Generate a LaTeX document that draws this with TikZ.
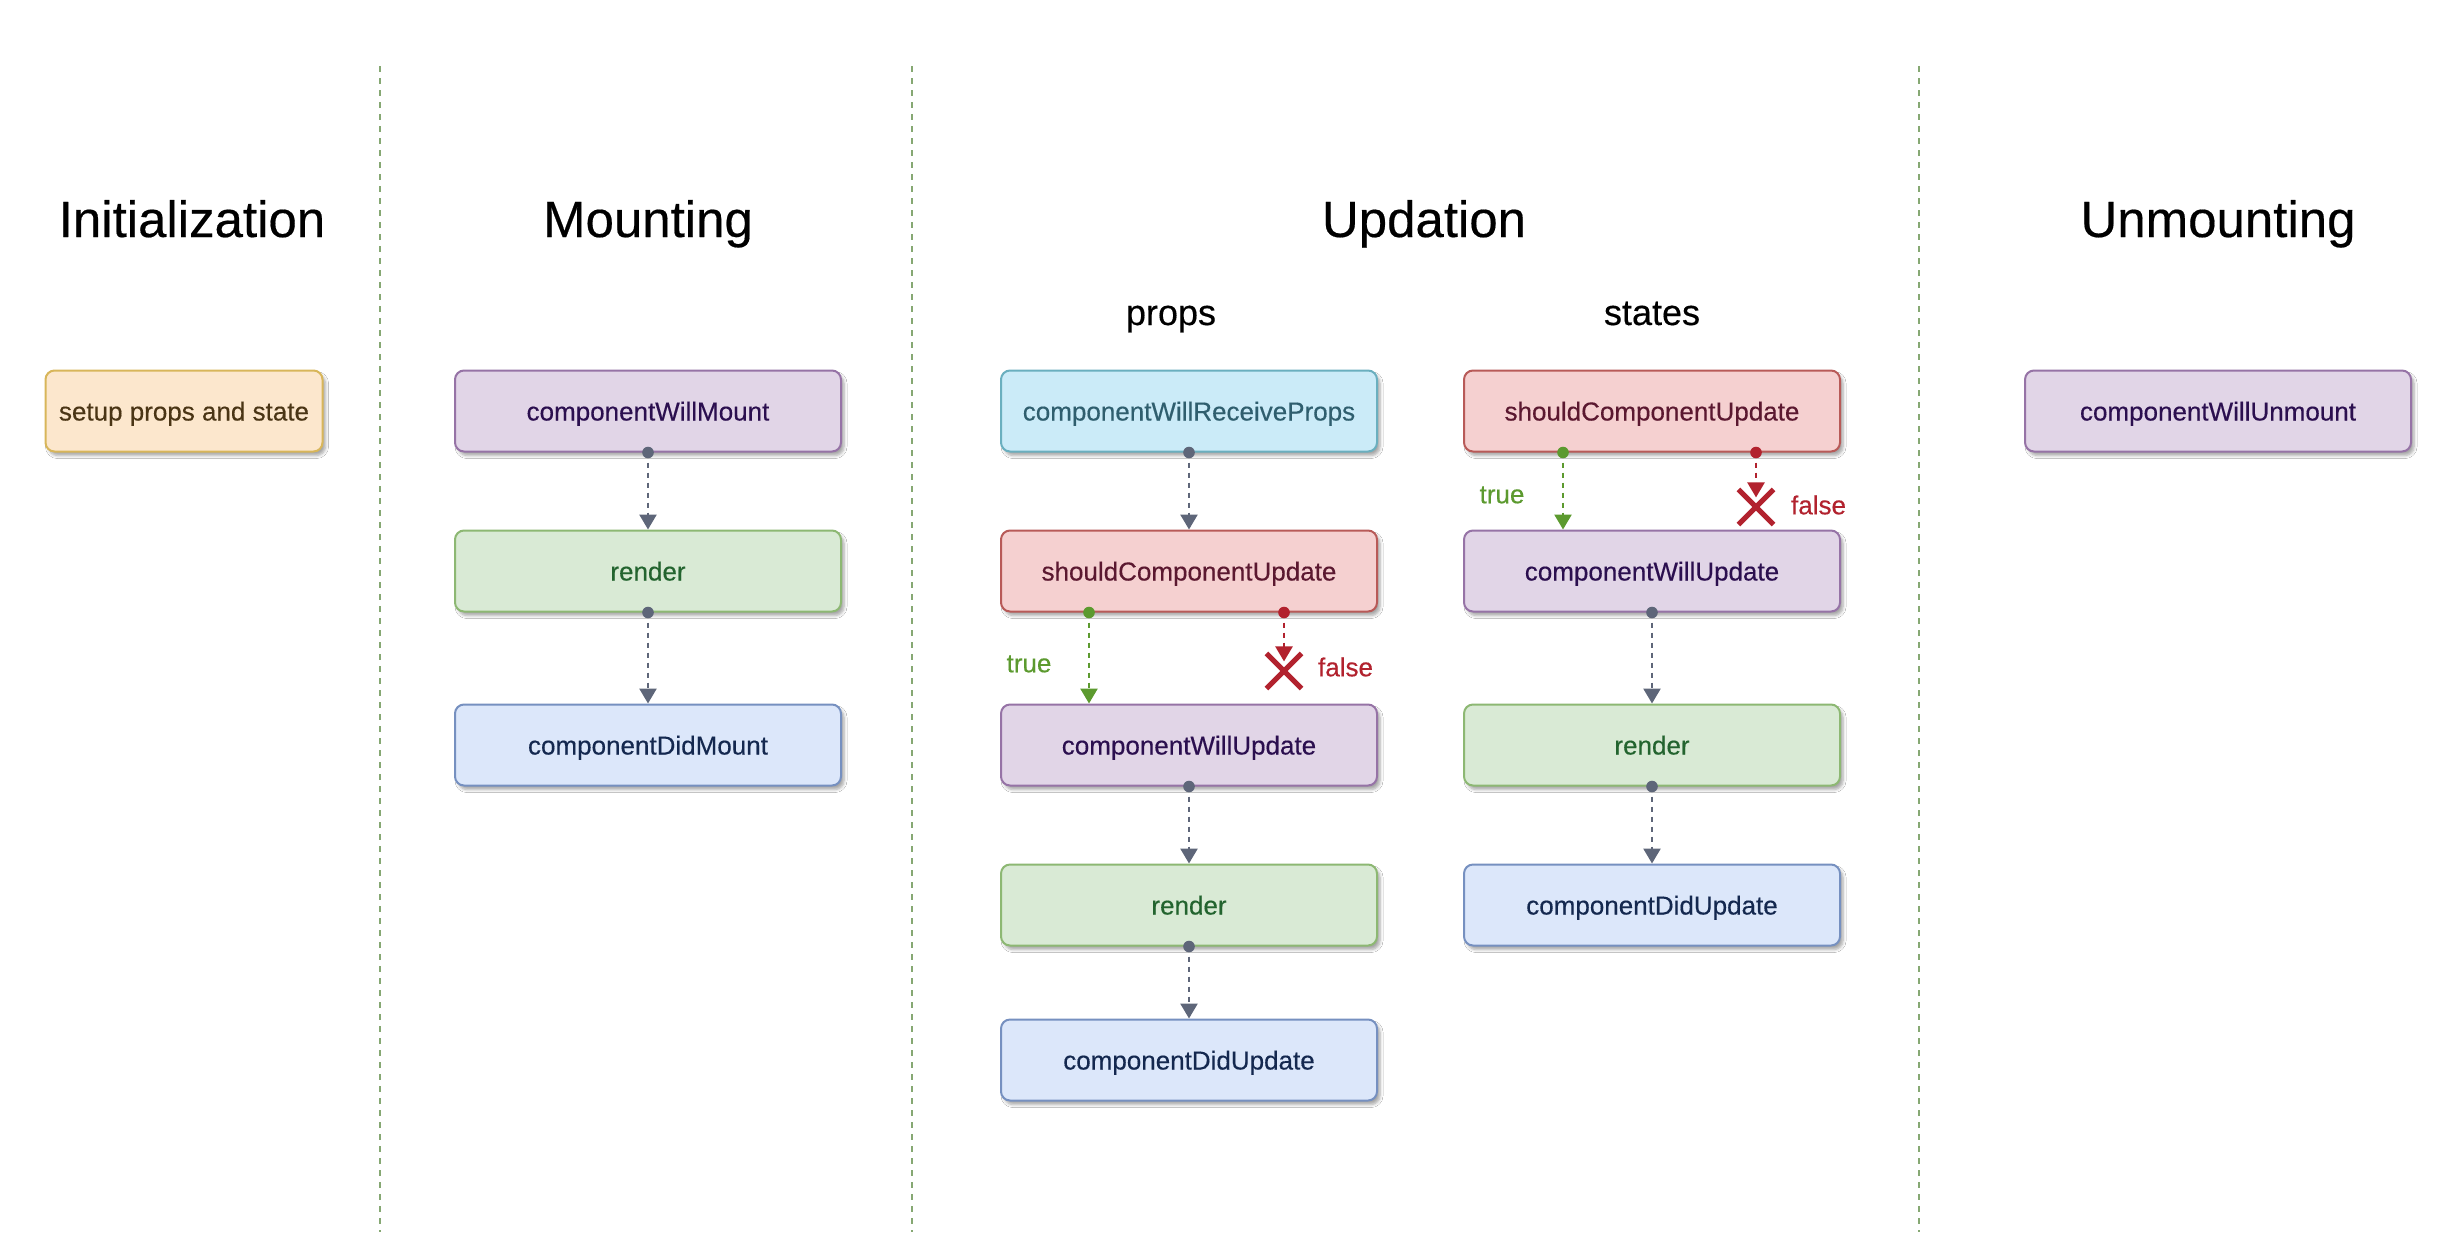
\documentclass[tikz,border=0pt]{standalone}
\usepackage{fontspec}
\setmainfont{Liberation Sans}[FakeBold=0.35]
\usetikzlibrary{arrows.meta,shadows.blur,shapes.misc}

% palette
\definecolor{divider}{HTML}{86A873}
\definecolor{flow}{HTML}{5E6679}
\definecolor{yesgreen}{HTML}{5C9A2F}
\definecolor{nored}{HTML}{B2222E}
\definecolor{pfill}{HTML}{E1D5E7}\definecolor{pdraw}{HTML}{9673A6}\definecolor{ptext}{HTML}{2B0F4F}
\definecolor{gfill}{HTML}{D9EAD5}\definecolor{gdraw}{HTML}{8DB873}\definecolor{gtext}{HTML}{23642F}
\definecolor{bfill}{HTML}{DCE7FA}\definecolor{bdraw}{HTML}{7690C0}\definecolor{btext}{HTML}{14284F}
\definecolor{cfill}{HTML}{CBEBF8}\definecolor{cdraw}{HTML}{6AAFBF}\definecolor{ctext}{HTML}{2F5E6E}
\definecolor{rfill}{HTML}{F5D0D0}\definecolor{rdraw}{HTML}{B85A58}\definecolor{rtext}{HTML}{5B1830}
\definecolor{yfill}{HTML}{FCE7CD}\definecolor{ydraw}{HTML}{D8B65A}\definecolor{ytext}{HTML}{4A3515}

\tikzset{
  stage/.style={rounded corners=4.5pt, line width=1pt, minimum height=40.5pt,
    inner sep=0pt, text height=9.5pt, text depth=0pt,
    font=\fontsize{13}{15}\selectfont,
    blur shadow={shadow xshift=1.5pt, shadow yshift=-2pt, shadow blur steps=5,
      shadow blur radius=1.5pt, shadow opacity=35}},
  purplebox/.style={stage, fill=pfill, draw=pdraw, text=ptext},
  greenbox/.style={stage, fill=gfill, draw=gdraw, text=gtext},
  bluebox/.style={stage, fill=bfill, draw=bdraw, text=btext},
  cyanbox/.style={stage, fill=cfill, draw=cdraw, text=ctext},
  redbox/.style={stage, fill=rfill, draw=rdraw, text=rtext},
  peachbox/.style={stage, fill=yfill, draw=ydraw, text=ytext},
  wmount/.style={minimum width=193pt},
  wupdate/.style={minimum width=188pt},
  phase/.style={font=\fontsize{25.5}{30}\selectfont, text=black, anchor=base},
  subphase/.style={font=\fontsize{18}{22}\selectfont, text=black, anchor=base},
  flowline/.style={draw=flow, line width=1.3pt, dash pattern=on 2.6pt off 2.4pt,
    -{Triangle[width=8.5pt,length=7.5pt]}},
  yesline/.style={flowline, draw=yesgreen, -{Triangle[width=8.5pt,length=7.5pt,fill=yesgreen]}},
  noline/.style={flowline, draw=nored, -{Triangle[width=8.5pt,length=7.5pt,fill=nored]}},
  blocked/.style={cross out, draw=nored, line width=2.6pt, minimum size=15pt, inner sep=0pt},
  yeslabel/.style={font=\fontsize{13}{15}\selectfont, text=yesgreen},
  nolabel/.style={font=\fontsize{13}{15}\selectfont, text=nored, anchor=west},
  separator/.style={draw=divider, line width=1pt, dash pattern=on 3pt off 3pt},
}

\newcommand{\flowdot}[2][flow]{\fill[#1] (#2) circle (2.9pt);}

\begin{document}
\begin{tikzpicture}[x=0.5pt,y=-0.5pt]
\useasboundingbox[fill=white] (0,0) rectangle (2450,1232);

% phase separators
\coordinate (s1a) at (380,66);  \coordinate (s1b) at (380,1232);
\coordinate (s2a) at (912,66);  \coordinate (s2b) at (912,1232);
\coordinate (s3a) at (1919,66); \coordinate (s3b) at (1919,1232);
\draw[separator] (s1a) -- (s1b);
\draw[separator] (s2a) -- (s2b);
\draw[separator] (s3a) -- (s3b);

% phase titles
\node[phase] (tinit)  at (192,237)  {Initialization};
\node[phase] (tmount) at (648,237)  {Mounting};
\node[phase] (tupd)   at (1424,237) {Updation};
\node[phase] (tunm)   at (2218,237) {Unmounting};
\node[subphase] (tprops)  at (1171,325) {props};
\node[subphase] (tstates) at (1652,325) {states};

% initialization
\node[peachbox, minimum width=138.5pt] (setup) at (184,411) {setup props and state};

% mounting
\node[purplebox, wmount] (cwm)  at (648,411) {componentWillMount};
\node[greenbox,  wmount] (mr)   at (648,571) {render};
\node[bluebox,   wmount] (cdm)  at (648,745) {componentDidMount};

% updation: props
\node[cyanbox,   wupdate] (cwrp) at (1189,411)  {componentWillReceiveProps};
\node[redbox,    wupdate] (scua) at (1189,571)  {shouldComponentUpdate};
\node[purplebox, wupdate] (cwua) at (1189,745)  {componentWillUpdate};
\node[greenbox,  wupdate] (pr)   at (1189,905)  {render};
\node[bluebox,   wupdate] (cdua) at (1189,1060) {componentDidUpdate};

% updation: states
\node[redbox,    wupdate] (scub) at (1652,411) {shouldComponentUpdate};
\node[purplebox, wupdate] (cwub) at (1652,571) {componentWillUpdate};
\node[greenbox,  wupdate] (sr)   at (1652,745) {render};
\node[bluebox,   wupdate] (cdub) at (1652,905) {componentDidUpdate};

% unmounting
\node[purplebox, wmount] (cwun) at (2218,411) {componentWillUnmount};

% straight flow
\foreach \a/\b in {cwm/mr, mr/cdm, cwrp/scua, cwua/pr, pr/cdua, cwub/sr, sr/cdub}{
  \draw[flowline] (\a.south) -- (\b.north);
  \flowdot{\a.south}
}

% branch points
\coordinate (ya) at (1089,0);
\coordinate (yb) at (1563,0);
\node[blocked] (xa) at (1284,671) {};
\node[blocked] (xb) at (1756,507) {};

% props branch
\draw[yesline] (scua.south -| ya) -- (cwua.north -| ya);
\flowdot[yesgreen]{scua.south -| ya}
\draw[noline] (scua.south -| xa) -- ([yshift=-4pt]xa.north);
\flowdot[nored]{scua.south -| xa}
\node[yeslabel] (la) at (1029,664) {true};
\node[nolabel]  (na) at (1311,667) {false};

% states branch
\draw[yesline] (scub.south -| yb) -- (cwub.north -| yb);
\flowdot[yesgreen]{scub.south -| yb}
\draw[noline] (scub.south -| xb) -- ([yshift=-4pt]xb.north);
\flowdot[nored]{scub.south -| xb}
\node[yeslabel] (lb) at (1502,495) {true};
\node[nolabel]  (nb) at (1784,505) {false};
\end{tikzpicture}
\end{document}
